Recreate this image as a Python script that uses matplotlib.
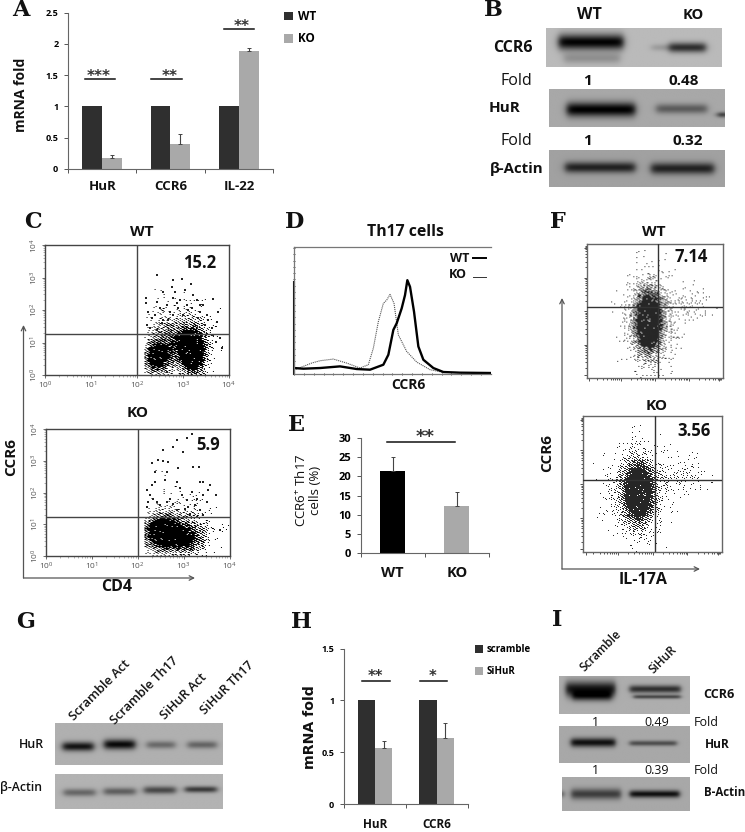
import numpy as np
import matplotlib
matplotlib.use("Agg")
import matplotlib.pyplot as plt
from matplotlib.colors import ListedColormap

plt.rcParams['font.family'] = ['Open Sans', 'DejaVu Sans']
plt.rcParams['mathtext.default'] = 'regular'
W, H = 745, 832
DARK, LIGHT = '#2f2f2f', '#a9a9a9'
fig = plt.figure(figsize=(W / 100, H / 100), dpi=100, facecolor='white')

# ---------- data: bar panels ----------
a_cats = ['HuR', 'CCR6', 'IL-22']
a_wt = [1, 1, 1]
a_ko = [0.18, 0.40, 1.89]
a_ko_err = [0.04, 0.16, 0.05]
e_cats = ['WT', 'KO']
e_vals = [21.5, 12.2]
e_err = [3.6, 3.7]
h_cats = ['HuR', 'CCR6']
h_scr = [1, 1]
h_si = [0.54, 0.64]
h_si_err = [0.07, 0.14]

# ---------- data: histogram D (channel, height as read) ----------
d_wt_x = [72, 100, 150, 210, 260, 300, 340, 355, 370, 380, 395, 405, 412, 420, 432, 445, 460, 490, 520, 570, 660]
d_wt_y = [490, 492, 490, 485, 493, 495, 480, 450, 375, 355, 310, 270, 225, 245, 320, 425, 465, 490, 502, 504, 505]
d_ko_x = [72, 100, 125, 150, 190, 230, 270, 295, 310, 325, 340, 350, 360, 372, 385, 410, 440, 480, 520, 660]
d_ko_y = [495, 485, 475, 468, 463, 475, 490, 480, 430, 350, 295, 285, 268, 295, 390, 440, 472, 495, 503, 505]

# ---------- data: flow plots ----------
# density blobs: centre x, centre y, spread x, spread y, strength
c_wt_blobs = [(2.42, 0.55, .16, .28, 1.5), (3.20, 0.70, .16, .40, 2.2), (2.85, 1.0, .33, .45, .70), (2.95, 1.7, .40, .45, .05)]
c_ko_blobs = [(2.55, 0.72, .22, .28, 2.2), (3.05, 0.50, .24, .28, .9), (2.8, 0.85, .40, .40, .40), (2.8, 1.7, .40, .50, .025)]
f_wt_blobs = [(.45, .42, .055, .13, 2.2), (.46, .42, .10, .18, .30), (.72, .53, .11, .09, .09)]
f_ko_blobs = [(.40, .44, .06, .125, 2.2), (.38, .44, .11, .16, .32), (.70, .56, .11, .09, .11)]
# sparse dots
c_wt_dx = [470, 520, 545, 572, 490, 515, 525, 438, 438, 470, 540, 590, 640, 610, 655, 600, 445, 480, 500, 520, 560, 620, 650, 665, 635, 580, 455, 490, 510, 535, 565, 595, 625, 440, 465, 485, 505, 530, 550, 575, 600, 615, 640, 648, 660, 620, 610, 500, 470, 450, 520, 555]
c_wt_dy = [210, 225, 222, 237, 262, 245, 262, 278, 295, 290, 285, 285, 282, 300, 320, 320, 320, 310, 300, 330, 300, 330, 350, 430, 370, 270, 340, 345, 320, 310, 315, 340, 345, 360, 330, 355, 345, 295, 330, 310, 300, 360, 390, 410, 400, 420, 440, 500, 375, 370, 280, 255]
c_ko_dx = [575, 560, 530, 548, 455, 475, 490, 505, 465, 500, 535, 580, 598, 610, 630, 648, 660, 440, 455, 495, 530, 540, 575, 600, 625, 450, 470, 510, 560, 590, 610, 445, 480, 520, 545, 565, 585, 620, 440, 460, 500, 530, 555, 600, 590, 520, 490, 610, 570, 465]
c_ko_dy = [686, 700, 705, 742, 775, 765, 768, 770, 800, 800, 790, 785, 785, 830, 840, 870, 975, 855, 840, 825, 830, 850, 860, 830, 855, 870, 890, 880, 885, 880, 870, 890, 900, 895, 870, 905, 900, 890, 905, 880, 890, 915, 910, 915, 935, 725, 735, 930, 925, 830]
f_wt_dx = [205, 225, 180, 150, 160, 200, 235, 260, 300, 315, 385, 430, 470, 495, 500, 480, 440, 410, 395, 460, 515, 450, 420, 400, 250, 270, 220, 180, 155, 240, 265, 300, 280, 390, 430, 470, 445, 410, 500, 365]
f_wt_dy = [290, 265, 340, 345, 395, 385, 350, 260, 230, 128, 235, 235, 245, 240, 270, 280, 260, 250, 280, 300, 300, 330, 345, 365, 400, 420, 440, 430, 430, 480, 470, 490, 450, 410, 390, 350, 290, 300, 320, 200]
f_ko_dx = [230, 210, 190, 170, 160, 180, 205, 235, 255, 300, 315, 375, 420, 455, 475, 490, 440, 400, 385, 470, 495, 445, 420, 400, 240, 225, 200, 250, 270, 230, 300, 330, 390, 430, 465, 410, 500, 365, 290, 220]
f_ko_dy = [790, 770, 850, 900, 945, 920, 900, 950, 1000, 680, 710, 760, 760, 760, 790, 800, 790, 770, 800, 820, 830, 850, 880, 900, 970, 990, 950, 940, 970, 1010, 980, 960, 880, 860, 840, 830, 810, 740, 740, 800]

# ---------- data: western blots, bands: x from, x to, y, thickness, darkness ----------
blots = {
    'b_ccr6': (.73, [(.07, .44, .36, .20, .72), (.10, .42, .78, .14, .16), (.70, .91, .50, .13, .55), (.60, .70, .50, .09, .12)]),
    'b_hur': (.66, [(.10, .49, .54, .19, .66), (.61, .90, .52, .13, .30), (.96, 1.02, .68, .07, .45)]),
    'b_act': (.63, [(.09, .49, .47, .15, .50), (.58, .94, .50, .16, .50)]),
    'g_hur': (.69, [(.044, .229, .56, .11, .62), (.292, .477, .51, .12, .66), (.547, .716, .52, .09, .28), (.791, .964, .52, .09, .30)]),
    'g_act': (.70, [(.05, .24, .53, .11, .30), (.29, .48, .50, .11, .33), (.53, .72, .46, .11, .42), (.775, .965, .44, .09, .48)]),
    'i_ccr6': (.68, [(.05, .43, .36, .20, .60), (.10, .40, .55, .12, .40), (.54, .93, .36, .10, .50), (.57, .93, .56, .05, .40)]),
    'i_hur': (.66, [(.09, .43, .46, .12, .60), (.54, .90, .48, .07, .36)]),
    'i_act': (.66, [(.07, .46, .50, .16, .42), (.53, .92, .50, .11, .60), (-.02, .012, .50, .10, .35)]),
}


def axpx(l, t, r, b, **kw):
    return fig.add_axes([l / W, 1 - b / H, (r - l) / W, (b - t) / H], **kw)


def draw_blot(name, l, t, r, b):
    bg, bands = blots[name]
    ax = axpx(l, t, r, b)
    xs = np.linspace(0, 1, 240)
    ys = np.linspace(0, 1, 80)
    X, Y = np.meshgrid(xs, ys)
    img = np.full_like(X, bg)
    for x0, x1, yc, th, dk in bands:
        edge = 0.5 * (np.tanh((X - x0) / .022) - np.tanh((X - x1) / .022))
        img -= dk * edge * np.exp(-((Y - yc) / th) ** 2)
    ax.imshow(np.clip(img, 0, 1), cmap='gray', vmin=0, vmax=1, extent=(0, 1, 1, 0), aspect='auto', interpolation='bilinear')
    ax.axis('off')


BLACK_ALPHA = ListedColormap(np.c_[np.zeros((256, 3)), np.linspace(0, 1, 256)])


def density(ax, blobs, xlim, ylim, npx, ink_alpha=1.0, xmin=None):
    """Render the read-off density blobs as a halftone with a fixed deterministic screen."""
    nx, ny = npx
    xs = np.linspace(*xlim, nx)
    ys = np.linspace(*ylim, ny)
    X, Y = np.meshgrid(xs, ys)
    D = np.zeros_like(X)
    for cx, cy, sx, sy, k in blobs:
        D += k * np.exp(-.5 * ((X - cx) / sx) ** 2 - .5 * ((Y - cy) / sy) ** 2)
    if xmin is not None:
        D[X < xmin] = 0
    I, J = np.meshgrid(np.arange(nx), np.arange(ny))
    screen = (I * .7549 + J * .5698 + .37 * ((I * J * .6180) % 1)) % 1
    ink = (np.clip(D, 0, .97) > screen).astype(float)
    ax.imshow(ink * ink_alpha, cmap=BLACK_ALPHA, vmin=0, vmax=1, origin='lower',
              extent=(*xlim, *ylim), aspect='auto', zorder=1, interpolation='bilinear')


def flow_c(l, t, r, b, blobs, dx, dy, qx, qy):
    ax = axpx(l, t, r, b)
    density(ax, blobs, (0, 4), (0, 4), (int(r - l), int(b - t)), xmin=2.15)
    ax.scatter(dx, dy, s=.55, c='#222222', marker='s', linewidths=0, zorder=2)
    ax.axvline(qx, color='#444444', lw=1, zorder=3)
    ax.axhline(qy, color='#444444', lw=1, zorder=3)
    ax.set_xlim(0, 4)
    ax.set_ylim(0, 4)
    ticks = [0, 1, 2, 3, 4]
    minor = [d + np.log10(m) for d in range(4) for m in range(2, 10)]
    labels = [f'$10^{k}$' for k in ticks]
    ax.set_xticks(ticks, labels, fontsize=6, color='#555555')
    ax.set_yticks(ticks, labels, fontsize=6, color='#555555', rotation=90, va='center')
    ax.set_xticks(minor, minor=True)
    ax.set_yticks(minor, minor=True)
    ax.tick_params(which='major', length=2.5, width=.6, pad=1, color='#555555')
    ax.tick_params(which='minor', length=1.3, width=.4, color='#777777')
    for s in ax.spines.values():
        s.set_color('#444444')
        s.set_linewidth(1)
    return ax


def flow_f(l, t, r, b, blobs, dx, dy, qx, qy):
    ax = axpx(l, t, r, b)
    density(ax, blobs, (0, 1), (0, 1), (int(r - l), int(b - t)), ink_alpha=.85)
    ax.scatter(dx, dy, s=.4, c='#555555', marker='s', linewidths=0, zorder=2)
    ax.axvline(qx, color='#333333', lw=1, zorder=3)
    ax.axhline(qy, color='#333333', lw=1, zorder=3)
    ax.set_xlim(0, 1)
    ax.set_ylim(0, 1)
    major = [.02, .25, .5, .75, .97]
    minor = [d + .25 * np.log10(m) for d in (0, .25, .5, .75) for m in range(2, 10)]
    ax.set_xticks(major)
    ax.set_yticks(major)
    ax.set_xticks(minor, minor=True)
    ax.set_yticks(minor, minor=True)
    ax.tick_params(which='both', labelbottom=False, labelleft=False, length=2, width=.6, color='#333333')
    ax.tick_params(which='minor', length=1.2)
    for s in ax.spines.values():
        s.set_color('#666666')
        s.set_linewidth(1)
    return ax


def bar_axes(ax, ymax, yticks, ylabels, ncat, size):
    ax.set_xlim(0, ncat)
    ax.set_ylim(0, ymax)
    ax.set_yticks(yticks, ylabels, fontsize=size, fontweight='bold')
    ax.set_xticks(range(ncat + 1), [''] * (ncat + 1))
    ax.tick_params(length=3, width=.7, pad=4, color='#555555')
    ax.patch.set_alpha(0)
    for s in ('top', 'right'):
        ax.spines[s].set_visible(False)
    for s in ('left', 'bottom'):
        ax.spines[s].set_color('#666666')
        ax.spines[s].set_linewidth(.8)


def grouped(ax, y1, y2, err, w, c1, c2, labels):
    pos = np.arange(len(y1)) + .5
    b1 = ax.bar(pos - w / 2, y1, w, color=c1, label=labels[0])
    b2 = ax.bar(pos + w / 2, y2, w, color=c2, label=labels[1])
    ax.errorbar(pos + w / 2, y2, yerr=[np.zeros(len(err)), err], fmt='none', ecolor='#444444', elinewidth=.8, capsize=1.2, capthick=.7)
    return b1, b2


# ---------- A ----------
axA = axpx(68, 12.7, 273, 169)
grouped(axA, a_wt, a_ko, a_ko_err, .29, DARK, LIGHT, ('WT', 'KO'))
bar_axes(axA, 2.5, [0, .5, 1, 1.5, 2, 2.5], ['0', '0.5', '1', '1.5', '2', '2.5'], 3, 6.5)
axA.legend(loc='upper left', bbox_to_anchor=(284 / W, 1 - 10 / H), bbox_transform=fig.transFigure, frameon=False,
           prop={'size': 8.5, 'weight': 'bold'}, handlelength=.75, handleheight=.75, handletextpad=.45, labelspacing=.8, borderpad=0, borderaxespad=0)

# ---------- B, G, I blots ----------
draw_blot('b_ccr6', 546, 28, 722, 67)
draw_blot('b_hur', 549, 89, 725, 127)
draw_blot('b_act', 549, 150, 725, 187)
draw_blot('g_hur', 55, 723, 223, 765)
draw_blot('g_act', 55, 774, 223, 809)
draw_blot('i_ccr6', 559, 676, 690, 714)
draw_blot('i_hur', 559, 726, 690, 763)
draw_blot('i_act', 562, 777, 690, 811)

# ---------- C ----------
flow_c(45, 245, 229, 375, c_wt_blobs, (np.array(c_wt_dx) - 136) / 137.75, (510 - np.array(c_wt_dy)) / 97.5, 2, 1.25)
flow_c(46, 429, 229.5, 556, c_ko_blobs, (np.array(c_ko_dx) - 138) / 137.5, (1052 - np.array(c_ko_dy)) / 95, 2, 1.24)

# ---------- D ----------
axD = axpx(294, 247, 490.7, 374)
axD.plot(d_ko_x, d_ko_y, color='#555555', lw=.8, ls=(0, (1, .8)))
axD.plot(d_wt_x, d_wt_y, color='k', lw=1.7)
axD.plot([73, 73], [508, 230], color='#111111', lw=1.5, clip_on=False)
axD.set_xlim(72, 662)
axD.set_ylim(508, 125)
axD.set_xticks(np.arange(72, 662, 147.5))
axD.set_yticks(np.arange(508, 125, -76))
axD.set_xticks(np.arange(72, 662, 29.5), minor=True)
axD.set_yticks(np.arange(508, 125, -19), minor=True)
axD.tick_params(which='both', labelbottom=False, labelleft=False, length=2, width=.6, color='#333333', direction='inout')
axD.tick_params(which='minor', length=1)
for side, s in axD.spines.items():
    s.set_color('#777777')
    s.set_linewidth(.9)
axD.spines['right'].set_visible(False)

# ---------- E ----------
axE = axpx(360.7, 438.3, 488.7, 552.7)
epos = np.arange(len(e_vals)) + .5
axE.bar(epos, e_vals, .395, color=['k', LIGHT])
axE.errorbar(epos, e_vals, yerr=[np.zeros(2), e_err], fmt='none', ecolor='#444444', elinewidth=.8, capsize=1.2, capthick=.7)
bar_axes(axE, 30, [0, 5, 10, 15, 20, 25, 30], ['0', '5', '10', '15', '20', '25', '30'], 2, 8)

# ---------- F ----------
flow_f(586.7, 244, 723, 378, f_wt_blobs, (np.array(f_wt_dx) - 140) / 410, 1 - (np.array(f_wt_dy) - 117) / 403, .52, .53)
flow_f(583, 416, 722, 552, f_ko_blobs, (np.array(f_ko_dx) - 130) / 416, 1 - (np.array(f_ko_dy) - 633) / 407, .52, .53)

# ---------- H ----------
axH = axpx(344, 648.7, 467.7, 804)
grouped(axH, h_scr, h_si, h_si_err, .28, DARK, LIGHT, ('scramble', 'SiHuR'))
bar_axes(axH, 1.5, [0, .5, 1, 1.5], ['0', '0.5', '1', '1.5'], 2, 6.5)
axH.legend(loc='upper left', bbox_to_anchor=(474.5 / W, 1 - 644 / H), bbox_transform=fig.transFigure, frameon=False,
           prop={'size': 7, 'weight': 'bold'}, handlelength=.85, handleheight=.85, handletextpad=.4, labelspacing=1.15, borderpad=0, borderaxespad=0)

# ---------- overlay: text, signif. lines, arrows ----------
ov = fig.add_axes([0, 0, 1, 1], zorder=50)
ov.set_xlim(0, W)
ov.set_ylim(H, 0)
ov.axis('off')


def T(x, y, s, size=8, weight='bold', **kw):
    kw.setdefault('ha', 'center')
    kw.setdefault('va', 'center')
    kw.setdefault('color', '#111111')
    ov.text(x, y, s, fontsize=size, fontweight=weight, **kw)


for lab, x, y in [('A', 21, 10), ('B', 493, 10), ('C', 33, 222), ('D', 295, 222), ('E', 296, 425), ('F', 558, 222),
                  ('G', 26, 622), ('H', 302, 622), ('I', 557, 620)]:
    T(x, y, lab, size=16, family='DejaVu Serif', color='#111111')

# A labels
T(21, 95, 'mRNA fold', 10, rotation=90)
for x, s in zip((103, 171, 239), a_cats):
    T(x, 187, s, 9.5)
# H labels
T(310, 727, 'mRNA fold', 10.2, rotation=90, family='DejaVu Sans')
for x, s in zip((375, 437), h_cats):
    T(x, 825, s, 8.5)
# E labels
T(308, 490, 'CCR6$^{+}$ Th17\ncells (%)', 9.5, weight='normal', rotation=90, linespacing=1.1)
for x, s in zip((392, 457), e_cats):
    T(x, 573, s, 10.5)

# significance
for x0, x1, y, tx, ty, s, sz in [(85, 115, 79, 98.5, 76, '***', 11), (151, 182, 79, 170, 76, '**', 11), (224, 254, 28.5, 242, 26, '**', 11),
                                 (387, 455, 442, 425, 437, '**', 13), (362, 390, 681, 375, 677, '**', 10.5), (420, 447, 681, 433, 677, '*', 10.5)]:
    ov.plot([x0, x1], [y, y], color='#111111', lw=1.1)
    T(tx, ty, s, sz, family='DejaVu Sans', color='#333333')

# B text
T(589, 15, 'WT', 11.5)
T(693, 15, 'KO', 10.5)
T(513, 48, 'CCR6', 11.5)
T(505, 108, 'HuR', 11)
T(517, 169, 'β-Actin', 10.8)
T(516, 81, 'Fold', 11.5, weight='normal')
T(516, 141, 'Fold', 11.5, weight='normal')
T(587, 81, '1', 11)
T(684, 81, '0.48', 11)
T(587, 141, '1', 11)
T(688, 141, '0.32', 11)

# C text
T(142, 232, 'WT', 11)
T(200, 263, '15.2', 12)
T(138, 413, 'KO', 11)
T(208, 445, '5.9', 12)
T(11, 457, 'CCR6', 11, rotation=90)
T(117, 587, 'CD4', 11.5)

# D text
T(405, 232, 'Th17 cells', 11.3)
T(460, 258, 'WT', 9)
T(458, 275, 'KO', 9)
T(408, 385, 'CCR6', 10)
ov.plot([473, 486], [258, 258], color='k', lw=1.4)
ov.plot([473, 486], [277, 277], color='#333333', lw=.7)

# F text
T(654, 232, 'WT', 11)
T(691, 257, '7.14', 12)
T(657, 406, 'KO', 11)
T(694, 431, '3.56', 12)
T(547, 453, 'CCR6', 11, rotation=90)
T(643, 580, 'IL-17A', 11.5)

# G text
for x, y, s in [(72, 719, 'Scramble Act'), (113, 723, 'Scramble Th17'), (163, 718, 'SiHuR Act'), (203, 713, 'SiHuR Th17')]:
    T(x, y, s, 9.2, weight='semibold', rotation=45, rotation_mode='anchor', ha='left', va='center')
T(31, 745, 'HuR', 9, weight='semibold')
T(21, 788, 'β-Actin', 8.8, weight='semibold')

# I text
for x, y, s in [(582, 670, 'Scramble'), (651, 672, 'SiHuR')]:
    T(x, y, s, 8.5, weight='semibold', rotation=45, rotation_mode='anchor', ha='left', va='center')
T(719, 694, 'CCR6', 9)
T(717, 744, 'HuR', 8.6)
T(725, 793, 'B-Actin', 8.3)
for y, a, b in [(722, '1', '0.49'), (771, '1', '0.39')]:
    T(595, y, a, 9, weight='normal')
    T(657, y, b, 9, weight='normal')
    T(706, y, 'Fold', 9, weight='normal')

# axis arrows
arrow = dict(arrowstyle='->', color='#555555', lw=.9, mutation_scale=8, shrinkA=0, shrinkB=0)
ov.annotate('', xy=(23.5, 325), xytext=(23.5, 578), arrowprops=arrow)
ov.annotate('', xy=(195, 578), xytext=(23.5, 578), arrowprops=arrow)
ov.annotate('', xy=(562, 298), xytext=(562, 569), arrowprops=arrow)
ov.annotate('', xy=(700, 569), xytext=(562, 569), arrowprops=arrow)

fig.savefig('out.png', dpi=100)
